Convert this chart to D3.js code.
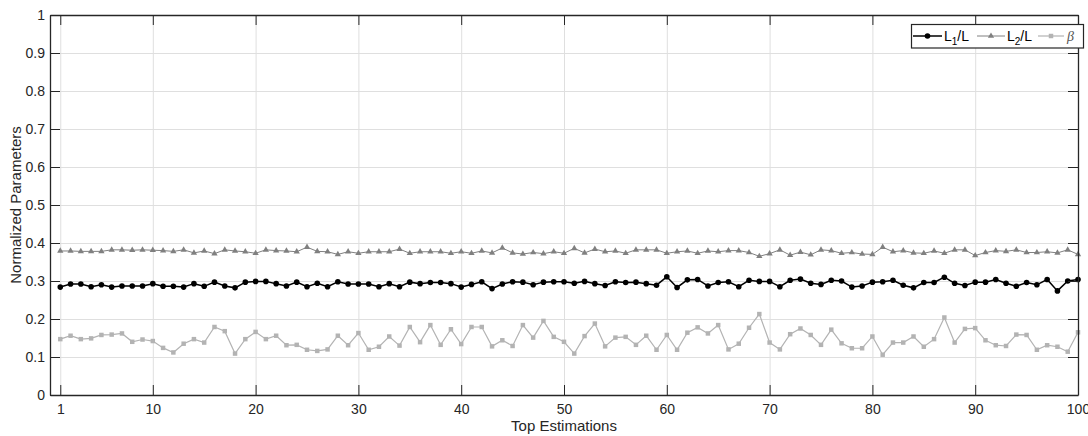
<!DOCTYPE html>
<html>
<head>
<meta charset="utf-8">
<script src="https://cdn.jsdelivr.net/npm/d3@7"></script>
<style>
  body { margin: 0; background: #fff; }
  svg { display: block; font-family: "Liberation Sans", Arial, sans-serif; }
</style>
</head>
<body>
<svg class="chart-svg"></svg>
<script>
const estimations = d3.range(1, 101);

const l1Values = [
  0.284, 0.292, 0.292, 0.285, 0.290, 0.284, 0.287, 0.287, 0.287, 0.293,
  0.286, 0.286, 0.284, 0.293, 0.286, 0.297, 0.287, 0.282, 0.297, 0.299,
  0.299, 0.293, 0.287, 0.297, 0.285, 0.294, 0.285, 0.298, 0.292, 0.292,
  0.292, 0.285, 0.293, 0.285, 0.297, 0.293, 0.296, 0.296, 0.293, 0.284,
  0.291, 0.298, 0.280, 0.292, 0.298, 0.297, 0.290, 0.297, 0.298, 0.298,
  0.294, 0.299, 0.293, 0.288, 0.298, 0.296, 0.297, 0.293, 0.289, 0.311,
  0.283, 0.303, 0.304, 0.287, 0.296, 0.298, 0.285, 0.302, 0.299, 0.299,
  0.285, 0.302, 0.305, 0.294, 0.291, 0.302, 0.300, 0.284, 0.287, 0.297,
  0.298, 0.302, 0.289, 0.282, 0.296, 0.296, 0.310, 0.294, 0.288, 0.297,
  0.297, 0.304, 0.294, 0.286, 0.296, 0.290, 0.304, 0.274, 0.300, 0.304,
];

const l2Values = [
  0.379, 0.379, 0.378, 0.378, 0.378, 0.382, 0.382, 0.381, 0.382, 0.381,
  0.380, 0.378, 0.382, 0.374, 0.379, 0.372, 0.382, 0.379, 0.377, 0.373,
  0.382, 0.380, 0.379, 0.377, 0.389, 0.378, 0.377, 0.370, 0.377, 0.373,
  0.377, 0.377, 0.377, 0.384, 0.373, 0.377, 0.377, 0.377, 0.373, 0.377,
  0.373, 0.379, 0.374, 0.387, 0.374, 0.371, 0.375, 0.372, 0.377, 0.373,
  0.386, 0.374, 0.384, 0.377, 0.379, 0.373, 0.382, 0.382, 0.382, 0.373,
  0.377, 0.379, 0.373, 0.379, 0.377, 0.380, 0.380, 0.375, 0.365, 0.372,
  0.382, 0.368, 0.376, 0.369, 0.382, 0.380, 0.373, 0.375, 0.371, 0.370,
  0.389, 0.377, 0.380, 0.374, 0.373, 0.379, 0.373, 0.382, 0.382, 0.367,
  0.375, 0.380, 0.378, 0.382, 0.375, 0.375, 0.377, 0.374, 0.382, 0.370,
];

const betaValues = [
  0.147, 0.156, 0.147, 0.149, 0.158, 0.159, 0.162, 0.140, 0.146, 0.142,
  0.124, 0.112, 0.135, 0.147, 0.138, 0.179, 0.168, 0.109, 0.147, 0.166,
  0.147, 0.156, 0.131, 0.132, 0.119, 0.116, 0.120, 0.156, 0.131, 0.163,
  0.119, 0.127, 0.154, 0.130, 0.179, 0.139, 0.184, 0.132, 0.173, 0.134,
  0.179, 0.179, 0.128, 0.144, 0.129, 0.184, 0.151, 0.195, 0.153, 0.140,
  0.109, 0.155, 0.188, 0.128, 0.151, 0.153, 0.132, 0.156, 0.119, 0.158,
  0.119, 0.164, 0.178, 0.162, 0.184, 0.120, 0.135, 0.177, 0.213, 0.138,
  0.120, 0.160, 0.175, 0.158, 0.132, 0.172, 0.136, 0.123, 0.123, 0.154,
  0.106, 0.138, 0.138, 0.154, 0.127, 0.147, 0.204, 0.138, 0.174, 0.176,
  0.144, 0.131, 0.129, 0.159, 0.158, 0.119, 0.131, 0.127, 0.114, 0.165,
];

const xTicks = [1, 10, 20, 30, 40, 50, 60, 70, 80, 90, 100];
const yTicks = [0, 0.1, 0.2, 0.3, 0.4, 0.5, 0.6, 0.7, 0.8, 0.9, 1];

const axisColor = '#262626';
const gridColor = '#dfdfdf';

const seriesList = [
  { key: 'l1', values: l1Values, color: '#000000', width: 1.5, marker: 'circle' },
  { key: 'l2', values: l2Values, color: '#808080', width: 1, marker: 'triangle' },
  { key: 'beta', values: betaValues, color: '#b3b3b3', width: 1.2, marker: 'square' },
];

const totalWidth = 1088;
const totalHeight = 436;
const margin = { top: 15, right: 10, bottom: 41, left: 50 };
const width = totalWidth - margin.left - margin.right;
const height = totalHeight - margin.top - margin.bottom;

const svgContainer = d3.select('.chart-svg')
  .attr('width', totalWidth)
  .attr('height', totalHeight);

const svg = svgContainer.append('g')
  .attr('transform', `translate(${margin.left},${margin.top})`);

const xScale = d3.scaleLinear().domain([0, 100]).range([0, width]);
const yScale = d3.scaleLinear().domain([0, 1]).range([height, 0]);

function drawMarker(sel, type, color) {
  if (type === 'circle') {
    sel.append('circle').attr('r', 2.8).attr('fill', color);
  } else if (type === 'triangle') {
    sel.append('path').attr('d', d3.symbol(d3.symbolTriangle, 17)()).attr('fill', color);
  } else {
    sel.append('path').attr('d', d3.symbol(d3.symbolSquare, 20)()).attr('fill', color);
  }
}

// grid
svg.append('g')
  .attr('class', 'grid-x')
  .call(d3.axisBottom(xScale).tickValues(xTicks).tickSize(-height).tickFormat(''))
  .attr('transform', `translate(0,${height})`)
  .call(g => g.select('.domain').remove())
  .call(g => g.selectAll('line').attr('stroke', gridColor));

svg.append('g')
  .attr('class', 'grid-y')
  .call(d3.axisLeft(yScale).tickValues(yTicks).tickSize(-width).tickFormat(''))
  .call(g => g.select('.domain').remove())
  .call(g => g.selectAll('line').attr('stroke', gridColor));

// series
const line = d3.line()
  .x((d, i) => xScale(estimations[i]))
  .y(d => yScale(d));

seriesList.forEach(s => {
  svg.append('path')
    .datum(s.values)
    .attr('fill', 'none')
    .attr('stroke', s.color)
    .attr('stroke-width', s.width)
    .attr('d', line);

  svg.append('g')
    .selectAll('g')
    .data(s.values)
    .join('g')
    .attr('transform', (d, i) => `translate(${xScale(estimations[i])},${yScale(d)})`)
    .each(function () { drawMarker(d3.select(this), s.marker, s.color); });
});

// axes (ticks pointing inward on all four sides)
const tickLen = 10;
const styleAxis = g => {
  g.select('.domain').attr('stroke', axisColor).attr('stroke-width', 1.3);
  g.selectAll('.tick line').attr('stroke', axisColor);
  g.selectAll('.tick text').attr('fill', axisColor).attr('font-size', 14)
    .attr('font-family', '"Liberation Sans", Arial, sans-serif');
};

svg.append('g')
  .attr('transform', `translate(0,${height})`)
  .call(d3.axisBottom(xScale).tickValues(xTicks).tickSizeInner(-tickLen).tickSizeOuter(0).tickPadding(19 - 10 + tickLen - 9))
  .call(styleAxis)
  .call(g => g.selectAll('.tick text').attr('y', 14).attr('dy', '0.71em').attr('dy', null).attr('y', 19));

svg.append('g')
  .call(d3.axisTop(xScale).tickValues(xTicks).tickSizeInner(-tickLen).tickSizeOuter(0).tickFormat(''))
  .call(styleAxis);

svg.append('g')
  .call(d3.axisLeft(yScale).tickValues(yTicks).tickSizeInner(-tickLen).tickSizeOuter(0)
    .tickPadding(5).tickFormat(d3.format('~g')))
  .call(styleAxis)
  .call(g => g.selectAll('.tick text').attr('x', -5));

svg.append('g')
  .attr('transform', `translate(${width},0)`)
  .call(d3.axisRight(yScale).tickValues(yTicks).tickSizeInner(-tickLen).tickSizeOuter(0).tickFormat(''))
  .call(styleAxis);

// axis labels
svg.append('text')
  .attr('x', width / 2)
  .attr('y', height + 36)
  .attr('text-anchor', 'middle')
  .attr('font-size', 15)
  .attr('fill', axisColor)
  .text('Top Estimations');

svg.append('text')
  .attr('transform', `translate(${21 - margin.left},${height / 2}) rotate(-90)`)
  .attr('text-anchor', 'middle')
  .attr('font-size', 15)
  .attr('fill', axisColor)
  .text('Normalized Parameters');

// legend
const legend = svgContainer.append('g').attr('class', 'legend');
legend.append('rect')
  .attr('x', 911.5).attr('y', 24.5)
  .attr('width', 172).attr('height', 23.5)
  .attr('fill', '#fff')
  .attr('stroke', axisColor)
  .attr('stroke-width', 1.2);

const legendItems = [
  { series: seriesList[0], x0: 913, x1: 942, tx: 944, label: ['L', '1', '/L'] },
  { series: seriesList[1], x0: 977, x1: 1005, tx: 1007, label: ['L', '2', '/L'] },
  { series: seriesList[2], x0: 1038, x1: 1064, tx: 1067, label: ['β'] },
];
const legendY = 36;

legendItems.forEach(item => {
  const g = legend.append('g');
  g.append('line')
    .attr('x1', item.x0).attr('x2', item.x1)
    .attr('y1', legendY).attr('y2', legendY)
    .attr('stroke', item.series.color)
    .attr('stroke-width', item.series.width);
  drawMarker(
    g.append('g').attr('transform', `translate(${(item.x0 + item.x1) / 2},${legendY})`),
    item.series.marker, item.series.color,
  );
  const t = g.append('text')
    .attr('x', item.tx)
    .attr('y', legendY + 5)
    .attr('font-size', 14)
    .attr('fill', '#000');
  if (item.label.length === 3) {
    t.append('tspan').text(item.label[0]);
    t.append('tspan').attr('font-size', 10).attr('dy', 4).text(item.label[1]);
    t.append('tspan').attr('dy', -4).text(item.label[2]);
  } else {
    t.attr('font-family', '"Liberation Serif", serif')
      .attr('font-style', 'italic')
      .attr('fill', '#555')
      .text(item.label[0]);
  }
});
</script>
</body>
</html>
